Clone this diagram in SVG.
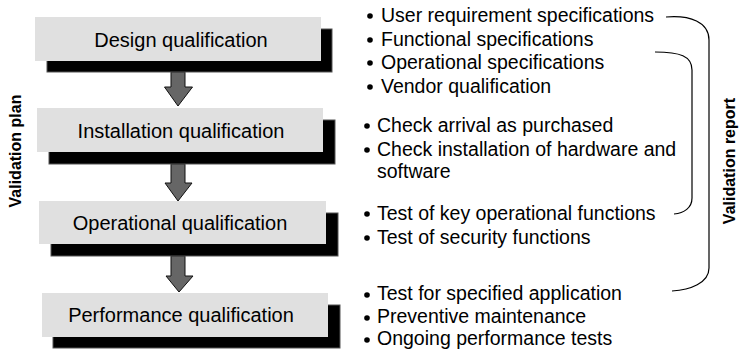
<svg xmlns="http://www.w3.org/2000/svg" width="742" height="350" viewBox="0 0 742 350">
<style>
.box{fill:#e0e0e0;}
.sh{fill:#000;stroke:#555;stroke-width:1;}
.lbl{font-family:"Liberation Sans",Arial,sans-serif;font-size:20px;fill:#000;text-anchor:middle;}
.itm{font-family:"Liberation Sans",Arial,sans-serif;font-size:19.5px;fill:#000;}
.side{font-family:"Liberation Sans",Arial,sans-serif;font-size:16px;font-weight:bold;fill:#000;text-anchor:middle;}
.arr{fill:#666;stroke:#111;stroke-width:1;}
.br{fill:none;stroke:#000;stroke-width:1.2;}
</style>
<rect width="742" height="350" fill="#fff"/>
<g id="connectors">
<polygon class="arr" points="171,72 185,72 185,87 192.5,87 178,106 164.5,87 171,87"/>
<polygon class="arr" points="171,164 185,164 185,183 192,183 178,201 165,183 171,183"/>
<polygon class="arr" points="171,256 185,256 185,276 193,276 179,292 166,276 171,276"/>
</g>
<g id="design">
<rect class="sh" x="47" y="29" width="285" height="43"/>
<rect class="box" x="35" y="17" width="286" height="44"/>
<text class="lbl" x="181" y="47">Design qualification</text>
</g>
<g id="installation">
<rect class="sh" x="49" y="120" width="286" height="44"/>
<rect class="box" x="37" y="108" width="286" height="44"/>
<text class="lbl" x="181" y="138">Installation qualification</text>
</g>
<g id="operational">
<rect class="sh" x="51" y="213" width="287" height="43"/>
<rect class="box" x="39" y="201" width="287" height="43"/>
<text class="lbl" x="180" y="230">Operational qualification</text>
</g>
<g id="performance">
<rect class="sh" x="53" y="305" width="287" height="43"/>
<rect class="box" x="42" y="293" width="286" height="44"/>
<text class="lbl" x="181" y="322">Performance qualification</text>
</g>
<g id="plan">
<text class="side" transform="translate(21,151) rotate(-90)">Validation plan</text>
</g>
<g id="report">
<text class="side" transform="translate(735,161) rotate(-90)">Validation report</text>
</g>
<g id="items">
<circle cx="370" cy="16" r="2.8"/><text class="itm" x="381" y="22">User requirement specifications</text>
<circle cx="370" cy="40" r="2.8"/><text class="itm" x="381" y="46">Functional specifications</text>
<circle cx="370" cy="63" r="2.8"/><text class="itm" x="381" y="69">Operational specifications</text>
<circle cx="370" cy="87" r="2.8"/><text class="itm" x="381" y="93">Vendor qualification</text>
<circle cx="367" cy="126" r="2.8"/><text class="itm" x="377" y="132">Check arrival as purchased</text>
<circle cx="367" cy="150" r="2.8"/><text class="itm" x="377" y="156">Check installation of hardware and</text>
<text class="itm" x="377" y="178">software</text>
<circle cx="367" cy="214" r="2.8"/><text class="itm" x="377" y="220">Test of key operational functions</text>
<circle cx="367" cy="238" r="2.8"/><text class="itm" x="377" y="244">Test of security functions</text>
<circle cx="367" cy="295" r="2.8"/><text class="itm" x="377" y="300">Test for specified application</text>
<circle cx="367" cy="318" r="2.8"/><text class="itm" x="377" y="323">Preventive maintenance</text>
<circle cx="367" cy="340" r="2.8"/><text class="itm" x="377" y="345">Ongoing performance tests</text>
</g>
<g id="brackets">
<path class="br" d="M666,17 C690,15 709,22 709,40 L709,268 C709,283 690,290 672,291"/>
<path class="br" d="M655,52 C680,52 692,56 692,70 L692,198 C692,208 684,213 674,214"/>
</g>
</svg>
